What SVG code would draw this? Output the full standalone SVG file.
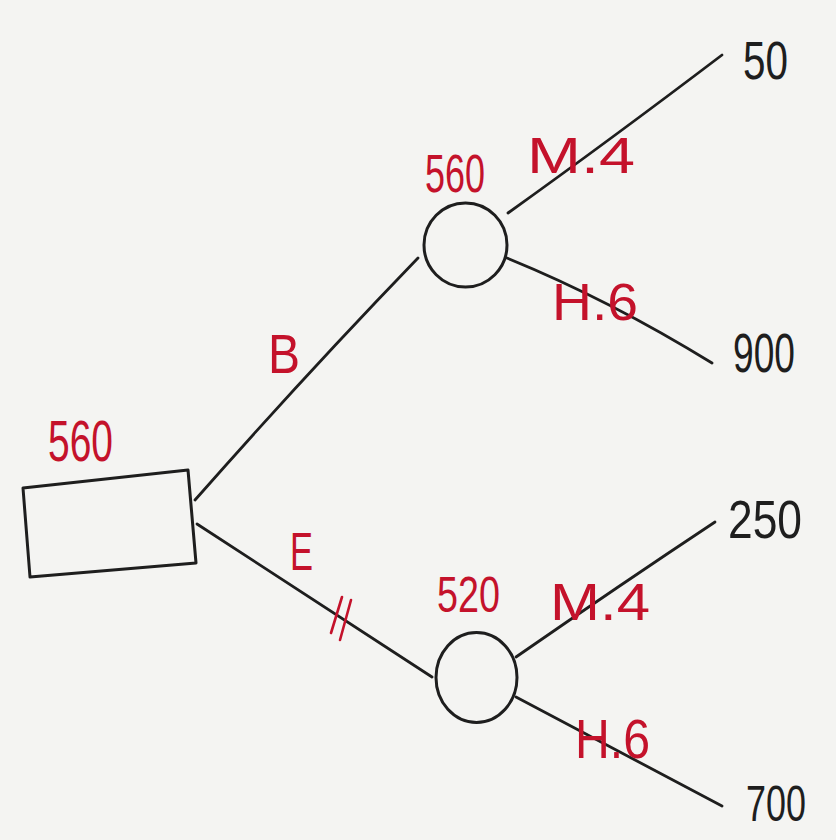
<svg xmlns="http://www.w3.org/2000/svg" width="836" height="840" viewBox="0 0 836 840">
<style>
.shape{fill:none;stroke:#1e1e1e;stroke-width:3;stroke-linejoin:round;stroke-linecap:round}
.edge{fill:none;stroke:#1e1e1e;stroke-width:2.8;stroke-linecap:round}
.red{fill:#c4122b;font-family:"Liberation Sans","DejaVu Sans",sans-serif}
.blk{fill:#1e1e1e;font-family:"Liberation Sans","DejaVu Sans",sans-serif}
.mark{stroke:#c4122b;stroke-width:2.6;stroke-linecap:round}
</style>
<rect x="0" y="0" width="836" height="840" fill="#f4f4f2"/>
<g id="connectors">
  <path class="edge" d="M195,500 Q305,375 418,258"/>
  <path class="edge" d="M197,524 L432,677"/>
  <path class="edge" d="M508,213 Q610,140 722,55"/>
  <path class="edge" d="M507,258 Q610,300 712,363"/>
  <path class="edge" d="M516,657 Q620,585 715,522"/>
  <path class="edge" d="M516,697 Q620,752 722,806"/>
  <line class="mark" x1="342" y1="597" x2="331" y2="633"/>
  <line class="mark" x1="351" y1="600" x2="340" y2="640"/>
</g>
<g id="decision">
  <polygon class="shape" points="23,488 188,470 196,563 30,577"/>
  <text class="red" x="48" y="461" font-size="58" textLength="65" lengthAdjust="spacingAndGlyphs">560</text>
</g>
<g id="chanceB">
  <ellipse class="shape" cx="465.5" cy="245" rx="41.5" ry="42"/>
  <text class="red" x="425" y="192" font-size="54" textLength="60" lengthAdjust="spacingAndGlyphs">560</text>
</g>
<g id="chanceE">
  <ellipse class="shape" cx="476.5" cy="677.5" rx="40.5" ry="45"/>
  <text class="red" x="437" y="612" font-size="50" textLength="63" lengthAdjust="spacingAndGlyphs">520</text>
</g>
<g id="labels">
  <text class="red" x="268" y="373" font-size="56" textLength="32" lengthAdjust="spacingAndGlyphs">B</text>
  <text class="red" x="290" y="570" font-size="54" textLength="23" lengthAdjust="spacingAndGlyphs">E</text>
  <text class="red" x="527" y="173" font-size="50" textLength="108" lengthAdjust="spacingAndGlyphs">M.4</text>
  <text class="red" x="552" y="320" font-size="52" textLength="86" lengthAdjust="spacingAndGlyphs">H.6</text>
  <text class="red" x="550" y="620" font-size="52" textLength="100" lengthAdjust="spacingAndGlyphs">M.4</text>
  <text class="red" x="575" y="758" font-size="56" textLength="75" lengthAdjust="spacingAndGlyphs">H.6</text>
</g>
<g id="outcome-50"><text class="blk" x="743" y="79" font-size="54" textLength="45" lengthAdjust="spacingAndGlyphs">50</text></g>
<g id="outcome-900"><text class="blk" x="733" y="372" font-size="56" textLength="62" lengthAdjust="spacingAndGlyphs">900</text></g>
<g id="outcome-250"><text class="blk" x="728" y="538" font-size="54" textLength="74" lengthAdjust="spacingAndGlyphs">250</text></g>
<g id="outcome-700"><text class="blk" x="746" y="821" font-size="50" textLength="60" lengthAdjust="spacingAndGlyphs">700</text></g>
</svg>
